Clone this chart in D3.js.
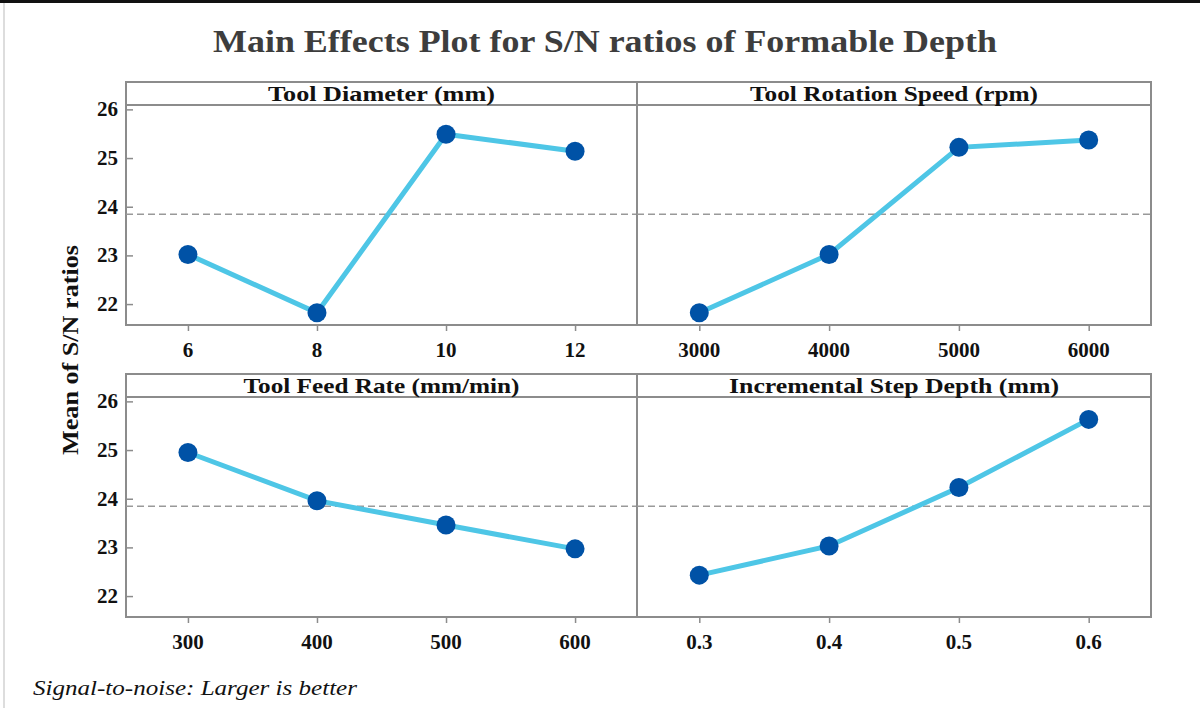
<!DOCTYPE html>
<html>
<head>
<meta charset="utf-8">
<script src="https://cdn.jsdelivr.net/npm/d3@7"></script>
<style>
  body { margin: 0; background: #fff; }
  svg { display: block; }
  text { font-family: "Liberation Serif", "Times New Roman", serif; }
</style>
</head>
<body>
<svg id="chart" width="1200" height="708"></svg>
<script>
// factor names (panel headers)
const factors = ['Tool Diameter (mm)', 'Tool Rotation Speed (rpm)', 'Tool Feed Rate (mm/min)', 'Incremental Step Depth (mm)'];
// level labels per factor
const levelsDiameter = ['6', '8', '10', '12'];
const levelsSpeed = ['3000', '4000', '5000', '6000'];
const levelsFeed = ['300', '400', '500', '600'];
const levelsDepth = ['0.3', '0.4', '0.5', '0.6'];
// mean S/N ratio per level
const snDiameter = [23.02, 21.82, 25.49, 25.14];
const snSpeed = [21.82, 23.02, 25.22, 25.37];
const snFeed = [24.95, 23.96, 23.46, 22.97];
const snDepth = [22.43, 23.03, 24.23, 25.63];
const yTicks = [22, 23, 24, 25, 26];

const levels = [levelsDiameter, levelsSpeed, levelsFeed, levelsDepth];
const values = [snDiameter, snSpeed, snFeed, snDepth];
const grandMean = d3.mean(values.flat());

const svg = d3.select('#chart');
const frameColor = '#8c8c8c';
const lineColor = '#4ec6e6';
const dotColor = '#0052a6';

// page borders
svg.append('rect').attr('x', 0).attr('y', 0).attr('width', 1200).attr('height', 3).attr('fill', '#111');
svg.append('rect').attr('x', 3).attr('y', 3).attr('width', 2).attr('height', 705).attr('fill', '#ddd');

// title (text in the original is drawn wide, so stretch it to the same span)
svg.append('text')
    .attr('x', 605).attr('y', 52)
    .attr('text-anchor', 'middle')
    .attr('textLength', 784).attr('lengthAdjust', 'spacingAndGlyphs')
    .style('font-size', '31px').style('font-weight', 'bold')
    .style('fill', '#3d3d3d')
    .text('Main Effects Plot for S/N ratios of Formable Depth');

const cols = [[126, 637], [637, 1151]];
const rows = [82, 374];
const headerH = 23;
const plotH = 220;
const headerWidths = [227, 288, 276, 330];

factors.forEach((name, i) => {
    const [x0, x1] = cols[i % 2];
    const top = rows[Math.floor(i / 2)];
    const plotTop = top + headerH;
    const plotBottom = plotTop + plotH;

    const x = d3.scaleLinear().domain([-0.48, 3.48]).range([x0, x1]);
    const y = d3.scaleLinear().domain([21.57, 26.09]).range([plotBottom, plotTop]);

    const g = svg.append('g');

    // frame + header strip
    g.append('rect')
        .attr('x', x0).attr('y', top)
        .attr('width', x1 - x0).attr('height', plotBottom - top)
        .attr('fill', 'none').attr('stroke', frameColor).attr('stroke-width', 2);
    g.append('line')
        .attr('x1', x0).attr('x2', x1).attr('y1', plotTop).attr('y2', plotTop)
        .attr('stroke', frameColor).attr('stroke-width', 2);
    g.append('text')
        .attr('x', (x0 + x1) / 2).attr('y', plotTop - 4)
        .attr('text-anchor', 'middle')
        .attr('textLength', headerWidths[i]).attr('lengthAdjust', 'spacingAndGlyphs')
        .style('font-size', '22px').style('font-weight', 'bold').style('fill', '#111')
        .text(name);

    // y axis on left column only, ticks drawn inward
    if (i % 2 === 0) {
        const yAxis = d3.axisRight(y).tickValues(yTicks).tickSize(7).tickFormat('');
        g.append('g').attr('transform', `translate(${x0},0)`).call(yAxis)
            .call(a => a.select('.domain').remove())
            .call(a => a.selectAll('line').attr('stroke', frameColor).attr('stroke-width', 1.5));
        g.selectAll('.ylab').data(yTicks).join('text')
            .attr('x', x0 - 8).attr('y', d => y(d) + 7)
            .attr('text-anchor', 'end')
            .style('font-size', '21px').style('font-weight', 'bold').style('fill', '#111')
            .text(d => d);
    }

    // x axis
    const xAxis = d3.axisBottom(x).tickValues(d3.range(4)).tickSize(6).tickFormat('');
    g.append('g').attr('transform', `translate(0,${plotBottom})`).call(xAxis)
        .call(a => a.select('.domain').remove())
        .call(a => a.selectAll('line').attr('stroke', frameColor).attr('stroke-width', 1.5));
    g.selectAll('.xlab').data(levels[i]).join('text')
        .attr('x', (d, k) => x(k)).attr('y', plotBottom + 32)
        .attr('text-anchor', 'middle')
        .style('font-size', '21px').style('font-weight', 'bold').style('fill', '#111')
        .text(d => d);

    // grand mean reference line
    g.append('line')
        .attr('x1', x0).attr('x2', x1)
        .attr('y1', y(grandMean)).attr('y2', y(grandMean))
        .attr('stroke', '#999').attr('stroke-width', 1.5).attr('stroke-dasharray', '7,4');

    // effect line and points
    const line = d3.line().x((d, k) => x(k)).y(d => y(d));
    g.append('path')
        .datum(values[i])
        .attr('d', line)
        .attr('fill', 'none').attr('stroke', lineColor).attr('stroke-width', 5);
    g.selectAll('circle').data(values[i]).join('circle')
        .attr('cx', (d, k) => x(k)).attr('cy', d => y(d))
        .attr('r', 9.5).attr('fill', dotColor);
});

// y-axis title
svg.append('text')
    .attr('transform', 'translate(78,350) rotate(-90)')
    .attr('text-anchor', 'middle')
    .attr('textLength', 210).attr('lengthAdjust', 'spacingAndGlyphs')
    .style('font-size', '24px').style('font-weight', 'bold').style('fill', '#111')
    .text('Mean of S/N ratios');

// footer note
svg.append('text')
    .attr('x', 33).attr('y', 695)
    .attr('textLength', 324).attr('lengthAdjust', 'spacingAndGlyphs')
    .style('font-size', '21px').style('font-style', 'italic').style('fill', '#111')
    .text('Signal-to-noise: Larger is better');
</script>
</body>
</html>
